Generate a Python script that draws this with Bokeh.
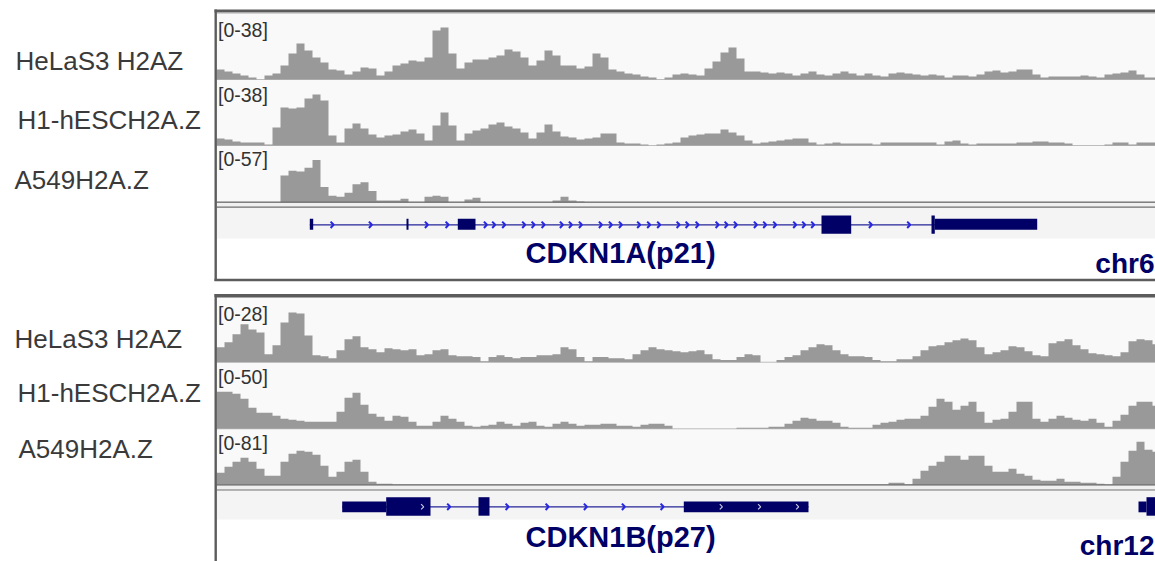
from bokeh.plotting import figure
from bokeh.models import Range1d
from bokeh.core.properties import value
from bokeh.embed import file_html
from bokeh.resources import INLINE

# ---------------- data ----------------
TRACK_NAMES = ["HeLaS3 H2AZ", "H1-hESCH2A.Z", "A549H2A.Z"]
TOP_RANGES = [38, 38, 57]
BOTTOM_RANGES = [28, 50, 81]
BIN = 8  # genomic units per coverage bin

# CDKN1A (p21) locus, chr6
p21_helas3 = [5.8, 4.6, 3.5, 2.3, 1.2, 0, 2.3, 3.5, 8.1, 15.0, 20.7, 16.7, 12.7, 9.8, 5.8, 5.2, 2.9, 4.6, 6.9, 6.3,
              2.3, 4.6, 8.1, 9.2, 10.9, 10.4, 12.7, 28.2, 30.0, 15.0, 6.3, 9.8, 11.5, 11.5, 12.7, 13.8, 17.3, 16.1, 12.7, 8.1,
              10.9, 16.7, 13.8, 8.1, 8.1, 6.3, 7.5, 15.0, 12.7, 5.8, 4.6, 3.5, 2.9, 1.7, 1.2, 0, 1.2, 2.9, 3.5, 2.9,
              2.3, 6.3, 10.4, 15.6, 18.4, 12.1, 4.6, 4.6, 4.0, 3.5, 4.0, 3.5, 2.3, 3.5, 4.6, 2.9, 2.3, 3.5, 4.6, 3.5,
              2.3, 3.5, 2.3, 1.7, 3.5, 4.0, 3.5, 2.9, 2.3, 2.9, 2.3, 1.2, 2.3, 2.3, 1.7, 2.9, 4.6, 5.2, 4.0, 4.6,
              5.8, 5.8, 2.9, 1.2, 1.7, 1.7, 1.7, 1.7, 2.3, 1.7, 1.2, 2.9, 3.5, 4.0, 5.2, 2.9, 1.2, 1.2]
p21_h1 = [4.2, 3.6, 2.4, 1.8, 1.8, 1.8, 0.6, 10.7, 22.6, 22.0, 22.6, 27.9, 30.3, 26.7, 5.9, 1.8, 10.1, 13.1, 10.1, 6.5,
          4.8, 5.9, 6.5, 8.3, 9.5, 7.1, 3.0, 11.9, 19.6, 11.9, 3.0, 7.1, 8.9, 10.1, 12.5, 13.7, 11.3, 10.1, 7.7, 4.2,
          7.7, 12.5, 8.3, 5.3, 4.8, 3.6, 4.2, 4.8, 7.1, 7.1, 1.8, 1.2, 1.2, 0.6, 0, 0.6, 1.2, 1.8, 4.8, 5.9,
          6.5, 7.1, 7.1, 9.5, 7.7, 5.9, 3.0, 1.2, 1.8, 2.4, 3.0, 3.6, 4.2, 4.2, 1.8, 0.6, 1.2, 1.8, 1.2, 1.2,
          1.2, 1.2, 0.6, 1.8, 1.8, 1.8, 1.8, 1.8, 1.8, 1.8, 0.6, 2.4, 3.0, 1.2, 0.6, 1.2, 1.2, 1.2, 1.2, 1.2,
          1.8, 1.8, 2.4, 2.4, 1.8, 1.8, 1.2, 0, 0, 0, 0, 0.6, 1.8, 1.8, 0.6, 1.8, 1.8, 1.8]
p21_a549 = [0, 0, 0, 0, 0, 0, 0, 0, 28, 33, 32, 36, 44, 16, 7, 6, 10, 19, 21, 12,
            2, 2, 2, 4, 0, 0, 6, 7, 6, 0, 0, 3, 5, 0, 0, 0, 0, 0, 0, 0,
            0, 0, 2, 6, 2, 1, 0, 0, 0, 0, 0, 0, 0, 0, 0, 0, 0, 0, 0, 0,
            0, 0, 0, 0, 0, 0, 0, 0, 0, 0, 0, 0, 0, 0, 0, 0, 0, 0, 0, 0,
            0, 0, 0, 0, 0, 0, 0, 0, 0, 0, 0, 0, 0, 0, 0, 0, 0, 0, 0, 0,
            0, 0, 0, 0, 0, 0, 0, 0, 0, 0, 0, 0, 0, 0, 0, 0, 0, 0]

# CDKN1B (p27) locus, chr12
p27_helas3 = [6.5, 8.6, 12.1, 16.4, 14.2, 12.9, 3.4, 7.3, 17.2, 21.5, 21.1, 11.6, 3.0, 2.6, 1.7, 5.2, 9.9, 11.2, 6.5, 5.6,
              4.3, 6.0, 5.6, 5.2, 5.6, 3.0, 3.4, 5.2, 5.6, 3.0, 2.6, 2.6, 2.2, 0.4, 2.2, 3.0, 2.2, 1.7, 2.2, 2.2,
              3.0, 3.0, 3.4, 6.5, 5.6, 2.2, 0.4, 2.2, 2.2, 1.7, 1.7, 1.3, 3.4, 5.2, 6.5, 5.6, 5.2, 4.7, 4.3, 4.7,
              5.2, 3.4, 1.3, 0.9, 0.9, 2.2, 3.4, 3.0, 0, 0, 0.9, 2.2, 3.0, 5.2, 6.5, 7.8, 7.3, 5.2, 3.4, 2.6,
              2.6, 2.2, 0.9, 0.4, 0.4, 1.3, 1.3, 2.6, 5.2, 6.9, 7.3, 8.6, 9.5, 10.3, 9.5, 6.5, 3.4, 4.3, 5.2, 6.9,
              6.5, 4.7, 3.0, 2.6, 8.2, 9.1, 9.9, 7.3, 5.6, 3.9, 3.4, 3.0, 2.6, 4.3, 9.1, 9.9, 9.5, 7.8]
p27_h1 = [28.9, 28.9, 27.3, 23.4, 16.4, 12.5, 12.5, 10.2, 7.8, 7.0, 6.2, 5.5, 5.5, 5.5, 5.5, 13.3, 24.2, 28.1, 18.7, 11.7,
          9.4, 6.2, 10.2, 9.4, 5.5, 2.3, 2.3, 5.5, 10.2, 7.8, 5.5, 2.3, 1.6, 2.3, 3.1, 5.5, 3.9, 2.3, 4.7, 5.5,
          2.3, 1.6, 3.9, 5.5, 3.9, 2.3, 3.1, 3.1, 3.9, 3.9, 2.3, 2.3, 1.6, 3.1, 3.9, 3.9, 2.3, 0, 0, 0,
          0, 0, 0, 0, 0, 0.8, 0.8, 0.8, 0.8, 1.6, 1.6, 3.9, 6.2, 8.6, 7.8, 6.2, 6.2, 4.7, 1.6, 0.8,
          0.8, 0.8, 3.1, 4.7, 5.5, 7.0, 7.8, 7.8, 10.2, 17.2, 23.4, 21.1, 14.8, 18.0, 21.1, 13.3, 4.7, 7.0, 7.8, 13.3,
          21.1, 21.1, 7.8, 5.5, 7.8, 10.2, 8.6, 7.0, 6.2, 7.8, 4.7, 1.6, 6.2, 10.9, 18.0, 21.1, 21.1, 18.0]
p27_a549 = [17.7, 26.5, 33.9, 39.8, 33.9, 23.6, 13.3, 13.3, 33.9, 45.7, 50.1, 48.6, 44.2, 28.0, 11.8, 19.1, 33.9, 36.8, 19.1, 4.4,
             1.5, 1.5, 0, 0, 0, 0, 0, 0, 0, 0, 0, 0, 0, 0, 0, 0, 0, 0, 0, 0,
             0, 0, 0, 0, 0, 0, 0, 0, 0, 0, 0, 0, 0, 0, 0, 0, 0, 0, 0, 0,
             0, 0, 0, 0, 0, 0, 0, 0, 0, 0, 0, 0, 0, 0, 0, 0, 0, 0, 0, 0,
             0, 0, 0, 0, 2.9, 2.9, 0, 8.8, 20.6, 28.0, 33.9, 42.7, 42.7, 36.8, 42.7, 42.7, 28.0, 19.1, 19.1, 23.6,
             16.2, 13.3, 7.4, 5.9, 5.9, 8.8, 4.4, 4.4, 2.9, 2.9, 1.5, 0, 11.8, 33.9, 50.1, 63.3, 51.6, 48.6]

# gene models (genomic units, same scale as coverage bins)
p21_utr_start = [93.3, 190.0, 241.3, 718.3]
p21_utr_end = [96.7, 192.0, 259.0, 820.7]
p21_cds_start = [605.0, 715.0]
p21_cds_end = [634.7, 718.3]
p21_intron = [93.3, 718.3]
p21_arrows = [115.7, 154.0, 210.0, 230.7, 269.0, 277.3, 287.3, 307.3, 316.7, 326.7, 345.0, 354.0, 364.0,
              384.0, 394.0, 404.0, 422.3, 432.3, 442.3, 461.7, 470.7, 480.7, 500.7, 509.7, 519.0, 539.0,
              548.3, 558.3, 578.3, 587.3, 596.3, 654.0, 692.3]

p27_utr_start = [125.7, 467.3, 922.0]
p27_utr_end = [169.7, 592.0, 930.0]
p27_cds_start = [169.7, 262.0, 930.0]
p27_cds_end = [214.0, 273.0, 950.0]
p27_intron = [125.7, 592.0]
p27_arrows = [232.3, 290.7, 330.7, 369.0, 407.0, 445.7]
p27_inner_arrows = [206.0, 504.7, 543.0, 581.0]

# ---------------- layout (page pixels) ----------------
W, H = 1155, 561
X0, X1, Y0, Y1 = 0, 1155, 0, 561
PANEL_LEFT = 216
FONT = value("Liberation Sans")

p = figure(width=W, height=H, x_range=Range1d(X0, X1), y_range=Range1d(Y1, Y0),
           output_backend="svg", toolbar_location=None, min_border=0,
           x_axis_location=None, y_axis_location=None, outline_line_color=None,
           background_fill_color="white", border_fill_color="white")
p.xgrid.visible = False
p.ygrid.visible = False
p.extra_x_ranges = {"genome": Range1d(X0 - PANEL_LEFT, X1 - PANEL_LEFT)}

COV = "#999999"
NAVY = "#000066"

panels = [
    dict(top=9, tracks=[(13, 79), (81, 145), (147, 202)], dbl=(201.7, 206.7), gene_bg=(207, 238),
         bottom_border=279.5, gene_y=224.3, ranges=TOP_RANGES,
         data=[p21_helas3, p21_h1, p21_a549],
         label_y=[60, 119.5, 179.5], label_x=[15, 17, 14], range_y=[29, 94.5, 158],
         name="CDKN1A(p21)", name_y=252.5, chrom="chr6", chrom_y=263,
         utr=(p21_utr_start, p21_utr_end), cds=(p21_cds_start, p21_cds_end), intron=p21_intron,
         arrows=p21_arrows, inner=[], utr_h=(218.3, 229.3), cds_h=(215.0, 233.3)),
    dict(top=293.5, tracks=[(297, 361.7), (364.3, 428.3), (429.3, 484.3)], dbl=(484.3, 489.5), gene_bg=(490, 519),
         bottom_border=None, gene_y=506.3, ranges=BOTTOM_RANGES,
         data=[p27_helas3, p27_h1, p27_a549],
         label_y=[338, 392, 448], label_x=[14, 17, 18], range_y=[313, 376.5, 442],
         name="CDKN1B(p27)", name_y=536.5, chrom="chr12", chrom_y=545,
         utr=(p27_utr_start, p27_utr_end), cds=(p27_cds_start, p27_cds_end), intron=p27_intron,
         arrows=p27_arrows, inner=p27_inner_arrows, utr_h=(501.0, 511.8), cds_h=(496.7, 515.2)),
]

for k, pan in enumerate(panels):
    t_top = pan["tracks"][0][0]
    t_bot = pan["tracks"][-1][1]
    # backgrounds
    p.quad(left=[PANEL_LEFT], right=[X1], top=[t_top], bottom=[t_bot], fill_color="#f9f9f9", line_color=None)
    p.quad(left=[PANEL_LEFT], right=[X1], top=[pan["dbl"][0]], bottom=[pan["dbl"][1]], fill_color="#f0f0f0", line_color=None)
    p.quad(left=[PANEL_LEFT], right=[X1], top=[pan["gene_bg"][0]], bottom=[pan["gene_bg"][1]], fill_color="#f4f4f4", line_color=None)

    for j, ((T, B), M, vals) in enumerate(zip(pan["tracks"], pan["ranges"], pan["data"])):
        rname = "trk%d%d" % (k, j)
        p.extra_y_ranges[rname] = Range1d(start=(B - Y1) / (B - T) * M, end=(B - Y0) / (B - T) * M)
        # baseline
        p.segment(x0=[PANEL_LEFT], x1=[X1], y0=[B], y1=[B], line_color="#bdbdbd", line_width=1)
        xs, ys = [0], [0]
        for i, v in enumerate(vals):
            xs += [i * BIN, (i + 1) * BIN]
            ys += [v, v]
        xs.append(len(vals) * BIN)
        ys.append(0)
        p.patch(xs, ys, fill_color=COV, line_color=None, x_range_name="genome", y_range_name=rname)
        # range label
        p.text(x=[217.5], y=[pan["range_y"][j]], text=["[0-%d]" % M], text_font=FONT,
               text_font_size="19.5px", text_color="#333333", text_baseline="alphabetic")
        # track name
        p.text(x=[pan["label_x"][j]], y=[pan["label_y"][j]], text=[TRACK_NAMES[j]], text_font=FONT,
               text_font_size="26px", text_color="#3a3a3a", text_baseline="alphabetic")

    # double separator lines
    p.segment(x0=[PANEL_LEFT] * 2, x1=[X1] * 2, y0=list(pan["dbl"]), y1=list(pan["dbl"]),
              line_color="#6e6e6e", line_width=1.2)

    # gene model
    gy = pan["gene_y"]
    p.segment(x0=[pan["intron"][0]], x1=[pan["intron"][1]], y0=[gy], y1=[gy],
              line_color="#25259a", line_width=1.3, x_range_name="genome")
    axs = [[a - 1.6, a + 1.4, a - 1.6] for a in pan["arrows"]]
    ays = [[gy - 3.2, gy, gy + 3.2] for a in pan["arrows"]]
    p.multi_line(axs, ays, line_color="#2626e6", line_width=2, x_range_name="genome")
    p.quad(left=pan["utr"][0], right=pan["utr"][1], top=[pan["utr_h"][0]] * len(pan["utr"][0]),
           bottom=[pan["utr_h"][1]] * len(pan["utr"][0]), fill_color=NAVY, line_color=None, x_range_name="genome")
    p.quad(left=pan["cds"][0], right=pan["cds"][1], top=[pan["cds_h"][0]] * len(pan["cds"][0]),
           bottom=[pan["cds_h"][1]] * len(pan["cds"][0]), fill_color=NAVY, line_color=None, x_range_name="genome")
    if pan["inner"]:
        ixs = [[a - 1.4, a + 1.2, a - 1.4] for a in pan["inner"]]
        iys = [[gy - 2.6, gy, gy + 2.6] for a in pan["inner"]]
        p.multi_line(ixs, iys, line_color="#c8c8e0", line_width=1.2, x_range_name="genome")

    # texts
    p.text(x=[525], y=[pan["name_y"]], text=[pan["name"]], text_font=FONT, text_font_style="bold",
           text_font_size="29px", text_color=NAVY, text_baseline="alphabetic")
    p.text(x=[1154], y=[pan["chrom_y"]], text=[pan["chrom"]], text_font=FONT, text_font_style="bold",
           text_font_size="28px", text_color=NAVY, text_baseline="alphabetic", text_align="right")

    # borders
    top = pan["top"]
    p.segment(x0=[214], x1=[X1], y0=[top + 1.5], y1=[top + 1.5], line_color="#5c5c5c", line_width=3)
    p.segment(x0=[216], x1=[X1], y0=[top + 3.5], y1=[top + 3.5], line_color="#a8a8a8", line_width=1)
    bottom = pan["bottom_border"] if pan["bottom_border"] is not None else Y1
    p.segment(x0=[215.2], x1=[215.2], y0=[top], y1=[bottom + 1], line_color="#5c5c5c", line_width=2.4)
    if pan["bottom_border"] is not None:
        p.segment(x0=[214], x1=[X1], y0=[bottom], y1=[bottom], line_color="#5c5c5c", line_width=2.5)

open("out.html", "w").write(file_html(p, INLINE))
